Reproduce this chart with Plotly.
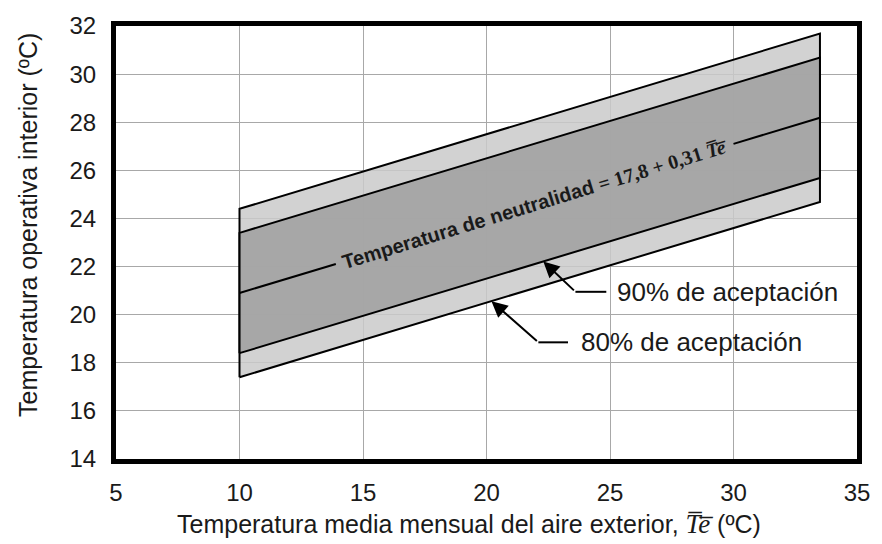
import plotly.graph_objects as go

# Adaptive comfort model: neutral temperature vs. monthly mean outdoor temperature
te_range = [10, 33.5]            # range of validity of the model (ºC)
neutral_intercept = 17.8
neutral_slope = 0.31
band_90 = 2.5                    # half-width of the 90 % acceptability band (ºC)
band_80 = 3.5                    # half-width of the 80 % acceptability band (ºC)
neutral_gap = [13.9, 30.0]       # neutral line is interrupted where the label sits

x_ticks = [5, 10, 15, 20, 25, 30, 35]
y_ticks = [14, 16, 18, 20, 22, 24, 26, 28, 30, 32]

SANS = "Arial, Liberation Sans, sans-serif"
SERIF = "Liberation Serif, Times New Roman, serif"
INK = "#1a1a1a"


def neutral(te):
    return neutral_intercept + neutral_slope * te


def band_polygon(half):
    xs = [te_range[0], te_range[0], te_range[1], te_range[1], te_range[0]]
    ys = [neutral(te_range[0]) - half, neutral(te_range[0]) + half,
          neutral(te_range[1]) + half, neutral(te_range[1]) - half,
          neutral(te_range[0]) - half]
    return xs, ys


fig = go.Figure()

# 80 % band (light) and 90 % band (dark), each outlined in black;
# slightly translucent so the grid shows faintly through
for half, col in [(band_80, "rgba(202,202,202,0.85)"), (band_90, "rgba(160,160,160,0.85)")]:
    xs, ys = band_polygon(half)
    fig.add_trace(go.Scatter(x=xs, y=ys, mode="lines", fill="toself",
                             fillcolor=col, line=dict(color="black", width=2),
                             hoverinfo="skip", showlegend=False))

# neutral temperature line, split around its label
for seg in ([te_range[0], neutral_gap[0]], [neutral_gap[1], te_range[1]]):
    fig.add_trace(go.Scatter(x=seg, y=[neutral(v) for v in seg], mode="lines",
                             line=dict(color="black", width=2),
                             hoverinfo="skip", showlegend=False))

# leader lines for the acceptability labels
labels = [
    # text, arrow tip Te, band half-width, elbow (x, y), leader end x, text x
    ("90% de aceptación", 22.3, band_90, (23.6, 20.95), 24.85, 25.2),
    ("80% de aceptación", 20.2, band_80, (22.1, 18.85), 23.3, 23.75),
]
for text, tip_x, half, (ex, ey), lx, tx in labels:
    fig.add_trace(go.Scatter(x=[ex, lx], y=[ey, ey], mode="lines",
                             line=dict(color="black", width=2),
                             hoverinfo="skip", showlegend=False))
    fig.add_annotation(x=tip_x, y=neutral(tip_x) - half, ax=ex, ay=ey,
                       xref="x", yref="y", axref="x", ayref="y",
                       showarrow=True, arrowhead=2, arrowsize=1.6,
                       arrowwidth=2, arrowcolor="black", standoff=0, text="")
    fig.add_annotation(x=tx, y=ey, xref="x", yref="y", text=text,
                       showarrow=False, xanchor="left", yanchor="middle",
                       font=dict(family=SANS, size=26, color=INK))

# label of the neutral temperature line
mid = (neutral_gap[0] + neutral_gap[1]) / 2
fig.add_annotation(
    x=mid, y=neutral(mid), xref="x", yref="y", showarrow=False, textangle=-17,
    text=("<b>Temperatura de neutralidad</b> "
          f"<span style='font-family:{SERIF}'><b>= 17,8 + 0,31 <i>T̅e̅</i></b></span>"),
    font=dict(family=SANS, size=20, color=INK))

# axis titles
fig.add_annotation(
    x=0.476, y=-0.149, xref="paper", yref="paper", showarrow=False,
    xanchor="center", yanchor="middle",
    text=("Temperatura media mensual del aire exterior, "
          f"<span style='font-family:{SERIF};font-size:27px'><i>T̅e̅</i></span> (ºC)"),
    font=dict(family=SANS, size=25, color=INK))
fig.add_annotation(
    x=-0.119, y=0.54, xref="paper", yref="paper", showarrow=False,
    textangle=-90, xanchor="center", yanchor="middle",
    text="Temperatura operativa interior (ºC)",
    font=dict(family=SANS, size=25, color=INK))

axis_common = dict(showgrid=True, gridcolor="#a8a8a8", gridwidth=1,
                   showline=True, linecolor="black", linewidth=5, mirror=True,
                   ticks="", zeroline=False,
                   tickfont=dict(family=SANS, size=24, color=INK))

fig.update_xaxes(range=[5, 35], tickvals=x_ticks, ticklabelstandoff=8, **axis_common)
fig.update_yaxes(range=[14, 32], tickvals=y_ticks, ticklabelstandoff=10, **axis_common)

fig.update_layout(
    width=882, height=544,
    margin=dict(l=116, r=19, t=16, b=85),
    plot_bgcolor="white", paper_bgcolor="white",
    showlegend=False,
)

fig.write_html("out.html")
